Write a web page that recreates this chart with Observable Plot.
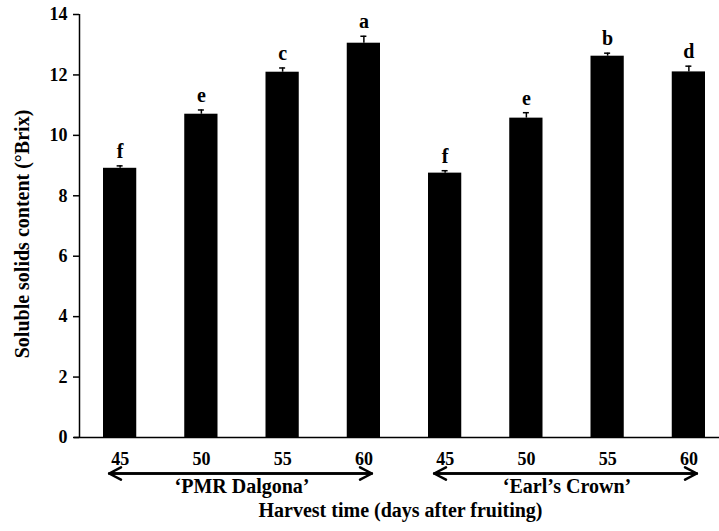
<!DOCTYPE html>
<html><head><meta charset="utf-8">
<script src="https://cdn.jsdelivr.net/npm/d3@7"></script>
<script src="https://cdn.jsdelivr.net/npm/@observablehq/plot@0.6"></script>
<style>html,body{margin:0;padding:0;background:#fff;overflow:hidden}</style>
</head><body><div id="chart"></div>
<script>
const days = [45, 50, 55, 60];
const varieties = ["\u2018PMR Dalgona\u2019", "\u2018Earl\u2019s Crown\u2019"];
const pmrMeans = [8.91, 10.70, 12.09, 13.05];
const pmrErrors = [0.08, 0.14, 0.14, 0.23];
const pmrLetters = ["f", "e", "c", "a"];
const earlMeans = [8.75, 10.57, 12.62, 12.10];
const earlErrors = [0.08, 0.18, 0.10, 0.19];
const earlLetters = ["f", "e", "b", "d"];
const yTicks = [0, 2, 4, 6, 8, 10, 12, 14];
const yLabel = "Soluble solids content (\u00B0Brix)";
const xLabel = "Harvest time (days after fruiting)";

const series = [[pmrMeans, pmrErrors, pmrLetters], [earlMeans, earlErrors, earlLetters]];
const rows = [];
series.forEach(([m, e, l], g) => days.forEach((d, j) =>
  rows.push({i: rows.length, group: g, day: d, mean: m[j], err: e[j], letter: l[j]})));
const groups = varieties.map((name, g) => {
  const idx = rows.filter(r => r.group === g).map(r => r.i);
  return {name, first: d3.min(idx), last: d3.max(idx), center: d3.mean(idx)};
});
const xDomain = [-0.5, rows.length - 0.5];
const font = "'Liberation Serif', 'Times New Roman', serif";

const chart = Plot.plot({
  width: 719, height: 531,
  marginLeft: 79, marginRight: -10, marginTop: 14, marginBottom: 94,
  style: {fontFamily: font, fontWeight: "bold", color: "#000", background: "#fff"},
  x: {domain: xDomain},
  y: {domain: [0, 14]},
  marks: [
    Plot.rectY(rows, {x1: d => d.i - 0.5, x2: d => d.i + 0.5, y: "mean", fill: "#000", insetLeft: 24, insetRight: 24}),
    Plot.ruleX(rows, {x: "i", y1: "mean", y2: d => d.mean + d.err, stroke: "#000", strokeWidth: 1.5}),
    Plot.ruleY(rows, {y: d => d.mean + d.err, x1: "i", x2: "i", insetLeft: -3, insetRight: -3, stroke: "#000", strokeWidth: 1.5}),
    Plot.text(rows, {x: "i", y: d => d.mean + d.err, text: "letter", lineAnchor: "bottom", dy: -8, fontSize: 20, fill: "#000"}),
    Plot.ruleX([xDomain[0]], {stroke: "#000", strokeWidth: 1.5}),
    Plot.ruleY([0], {insetLeft: -5, stroke: "#000", strokeWidth: 1.5}),
    Plot.axisY({ticks: yTicks, tickSize: 6, tickPadding: 6, fontSize: 18, label: null, stroke: "#000", strokeWidth: 1.5}),
    Plot.axisX(rows.map(r => r.i), {tickSize: 0, tickPadding: 15, tickFormat: i => rows[i].day, fontSize: 18, label: null}),
    Plot.arrow(groups, {x1: "first", x2: "last", y1: 0, y2: 0, dy: 36, insetStart: -11, insetEnd: -8, stroke: "#000", strokeWidth: 2.5, headAngle: 55, headLength: 8}),
    Plot.arrow(groups, {x1: "last", x2: "first", y1: 0, y2: 0, dy: 36, insetStart: -8, insetEnd: -11, stroke: "#000", strokeWidth: 2.5, headAngle: 55, headLength: 8}),
    Plot.text(groups, {x: "center", text: "name", frameAnchor: "bottom", dy: 55, fontSize: 20, fill: "#000"}),
    Plot.text([xLabel], {frameAnchor: "bottom", dy: 79, dx: -4, fontSize: 20, fill: "#000"}),
    Plot.text([yLabel], {frameAnchor: "left", textAnchor: "middle", rotate: -90, dx: -57, dy: 8, fontSize: 20, fill: "#000"})
  ]
});
document.getElementById("chart").appendChild(chart);
</script>
</body></html>
